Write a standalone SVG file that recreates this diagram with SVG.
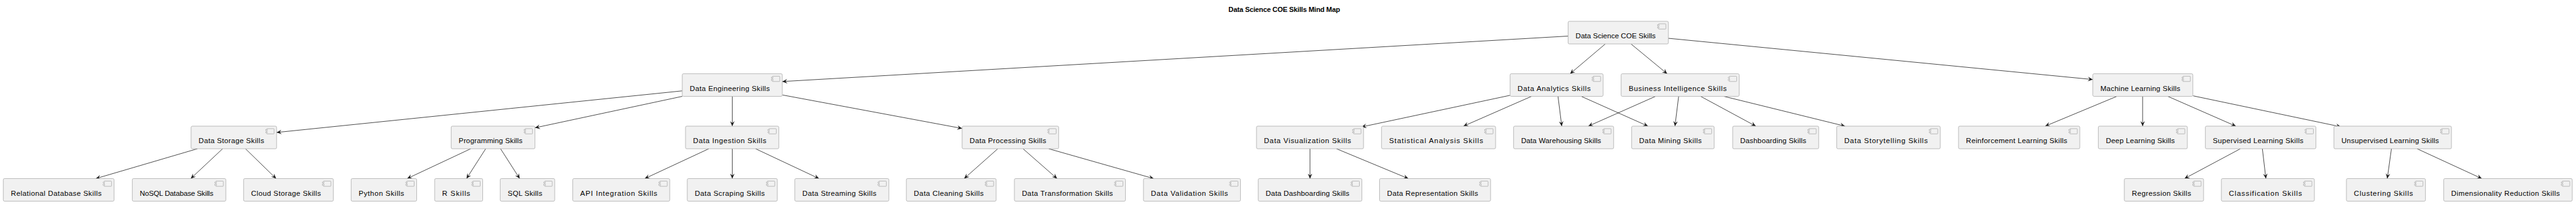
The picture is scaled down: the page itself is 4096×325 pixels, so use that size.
<svg xmlns="http://www.w3.org/2000/svg" width="4096" height="325" viewBox="0 0 4096 325">
<style>
.b{fill:#F1F1F1;stroke:#ABABAB;stroke-width:1}
.i{fill:#F1F1F1;stroke:#ABABAB;stroke-width:1}
.p{fill:#F1F1F1;stroke:#ABABAB;stroke-width:.7}
.t{font-family:"Liberation Sans",Arial,sans-serif;font-size:14.5px;fill:#000}
.h{font-family:"Liberation Sans",Arial,sans-serif;font-size:14px;font-weight:bold;fill:#000}
.e{fill:none;stroke:#181818;stroke-width:1;marker-end:url(#a)}
</style>
<defs>
<marker id="a" markerUnits="userSpaceOnUse" markerWidth="12" markerHeight="10" viewBox="0 -5 12 10" refX="10" refY="0" orient="auto"><path d="M0,-4.5 L10,0 L0,4.5 L4,0 Z" fill="#181818"/></marker>
<g id="c"><rect class="i" width="15" height="10.5" rx="1"/><rect class="p" x="-2" y="2" width="3.5" height="2"/><rect class="p" x="-2" y="6.5" width="3.5" height="2"/></g>
</defs>
<rect width="4096" height="325" fill="#fff"/>
<g transform="scale(0.79534)">
<text class="h" x="2456" y="24" textLength="223" lengthAdjust="spacing">Data Science COE Skills Mind Map</text>
<g id="connectors">
<line class="e" x1="3135" y1="72.3" x2="1564" y2="163.3"/>
<line class="e" x1="3209.4" y1="88" x2="3139" y2="147.7"/>
<line class="e" x1="3260.7" y1="88" x2="3333" y2="147.7"/>
<line class="e" x1="3335.4" y1="76.7" x2="4184" y2="159.3"/>
<line class="e" x1="1364" y1="182" x2="553" y2="265.3"/>
<line class="e" x1="1364" y1="193" x2="1069.5" y2="256"/>
<line class="e" x1="1464" y1="193" x2="1464" y2="252.7"/>
<line class="e" x1="1564.5" y1="190.3" x2="1923.5" y2="257.3"/>
<line class="e" x1="394.6" y1="298" x2="191.5" y2="357.7"/>
<line class="e" x1="445" y1="298" x2="381.4" y2="357.7"/>
<line class="e" x1="490.8" y1="298" x2="552" y2="357.7"/>
<line class="e" x1="941" y1="298" x2="814" y2="357.7"/>
<line class="e" x1="971" y1="298" x2="932.7" y2="357.7"/>
<line class="e" x1="1000.7" y1="298" x2="1039" y2="357.7"/>
<line class="e" x1="1417" y1="298" x2="1289" y2="357.7"/>
<line class="e" x1="1464" y1="298" x2="1464" y2="357.7"/>
<line class="e" x1="1510.6" y1="298" x2="1637.4" y2="357.7"/>
<line class="e" x1="1994.8" y1="298" x2="1927.6" y2="357.7"/>
<line class="e" x1="2045.3" y1="298" x2="2113.3" y2="357.7"/>
<line class="e" x1="2096.7" y1="298" x2="2306.5" y2="357.7"/>
<line class="e" x1="3018.7" y1="191" x2="2721.9" y2="254.3"/>
<line class="e" x1="3061.8" y1="193" x2="2925.8" y2="252.7"/>
<line class="e" x1="3114.8" y1="193" x2="3122.3" y2="252.7"/>
<line class="e" x1="3161.3" y1="193" x2="3294.7" y2="252.7"/>
<line class="e" x1="3309.7" y1="193" x2="3175.4" y2="252.7"/>
<line class="e" x1="3356" y1="193" x2="3348.6" y2="252.7"/>
<line class="e" x1="3400" y1="193" x2="3510.3" y2="252.7"/>
<line class="e" x1="3446.5" y1="193" x2="3688.6" y2="252.7"/>
<line class="e" x1="2619" y1="298" x2="2619" y2="357.7"/>
<line class="e" x1="2672" y1="298" x2="2815.6" y2="357.7"/>
<line class="e" x1="4232" y1="193" x2="4088.8" y2="252.7"/>
<line class="e" x1="4283.6" y1="193" x2="4283.6" y2="252.7"/>
<line class="e" x1="4334" y1="193" x2="4470" y2="252.7"/>
<line class="e" x1="4384.7" y1="192" x2="4680" y2="254"/>
<line class="e" x1="4479" y1="298" x2="4367.3" y2="357.7"/>
<line class="e" x1="4523" y1="298" x2="4530" y2="357.7"/>
<line class="e" x1="4781" y1="298" x2="4772.7" y2="357.7"/>
<line class="e" x1="4832.4" y1="298" x2="4961.7" y2="357.7"/>
</g>
<g id="root"><rect class="b" x="3135" y="42.7" width="200.5" height="45.3" rx="2.5"/><use href="#c" x="3315.5" y="47.7"/><text class="t" x="3150" y="77" textLength="160" lengthAdjust="spacing">Data Science COE Skills</text></g>
<g id="n-engineering"><rect class="b" x="1364" y="147.7" width="200" height="45.3" rx="2.5"/><use href="#c" x="1544" y="152.7"/><text class="t" x="1379" y="182" textLength="160" lengthAdjust="spacing">Data Engineering Skills</text></g>
<g id="n-analytics"><rect class="b" x="3019" y="147.7" width="186" height="45.3" rx="2.5"/><use href="#c" x="3185" y="152.7"/><text class="t" x="3034" y="182" textLength="146" lengthAdjust="spacing">Data Analytics Skills</text></g>
<g id="n-bi"><rect class="b" x="3241" y="147.7" width="236" height="45.3" rx="2.5"/><use href="#c" x="3457" y="152.7"/><text class="t" x="3256" y="182" textLength="196" lengthAdjust="spacing">Business Intelligence Skills</text></g>
<g id="n-ml"><rect class="b" x="4184" y="147.7" width="200" height="45.3" rx="2.5"/><use href="#c" x="4364" y="152.7"/><text class="t" x="4199" y="182" textLength="160" lengthAdjust="spacing">Machine Learning Skills</text></g>
<g id="n-storage"><rect class="b" x="382" y="252.7" width="171" height="45.3" rx="2.5"/><use href="#c" x="533" y="257.7"/><text class="t" x="397" y="287" textLength="131" lengthAdjust="spacing">Data Storage Skills</text></g>
<g id="n-programming"><rect class="b" x="902" y="252.7" width="167.5" height="45.3" rx="2.5"/><use href="#c" x="1049.5" y="257.7"/><text class="t" x="917" y="287" textLength="127.5" lengthAdjust="spacing">Programming Skills</text></g>
<g id="n-ingestion"><rect class="b" x="1370.5" y="252.7" width="186.5" height="45.3" rx="2.5"/><use href="#c" x="1537" y="257.7"/><text class="t" x="1385.5" y="287" textLength="146.5" lengthAdjust="spacing">Data Ingestion Skills</text></g>
<g id="n-processing"><rect class="b" x="1923.5" y="252.7" width="193" height="45.3" rx="2.5"/><use href="#c" x="2096.5" y="257.7"/><text class="t" x="1938.5" y="287" textLength="153" lengthAdjust="spacing">Data Processing Skills</text></g>
<g id="n-visualization"><rect class="b" x="2512" y="252.7" width="214" height="45.3" rx="2.5"/><use href="#c" x="2706" y="257.7"/><text class="t" x="2527" y="287" textLength="174" lengthAdjust="spacing">Data Visualization Skills</text></g>
<g id="n-statistical"><rect class="b" x="2762" y="252.7" width="228" height="45.3" rx="2.5"/><use href="#c" x="2970" y="257.7"/><text class="t" x="2777" y="287" textLength="188" lengthAdjust="spacing">Statistical Analysis Skills</text></g>
<g id="n-warehousing"><rect class="b" x="3026" y="252.7" width="200" height="45.3" rx="2.5"/><use href="#c" x="3206" y="257.7"/><text class="t" x="3041" y="287" textLength="160" lengthAdjust="spacing">Data Warehousing Skills</text></g>
<g id="n-mining"><rect class="b" x="3262" y="252.7" width="165" height="45.3" rx="2.5"/><use href="#c" x="3407" y="257.7"/><text class="t" x="3277" y="287" textLength="125" lengthAdjust="spacing">Data Mining Skills</text></g>
<g id="n-dashboarding"><rect class="b" x="3464" y="252.7" width="172" height="45.3" rx="2.5"/><use href="#c" x="3616" y="257.7"/><text class="t" x="3479" y="287" textLength="132" lengthAdjust="spacing">Dashboarding Skills</text></g>
<g id="n-storytelling"><rect class="b" x="3672" y="252.7" width="207" height="45.3" rx="2.5"/><use href="#c" x="3859" y="257.7"/><text class="t" x="3687" y="287" textLength="167" lengthAdjust="spacing">Data Storytelling Skills</text></g>
<g id="n-reinforcement"><rect class="b" x="3915.5" y="252.7" width="242.5" height="45.3" rx="2.5"/><use href="#c" x="4138" y="257.7"/><text class="t" x="3930.5" y="287" textLength="202.5" lengthAdjust="spacing">Reinforcement Learning Skills</text></g>
<g id="n-deep"><rect class="b" x="4195" y="252.7" width="178" height="45.3" rx="2.5"/><use href="#c" x="4353" y="257.7"/><text class="t" x="4210" y="287" textLength="138" lengthAdjust="spacing">Deep Learning Skills</text></g>
<g id="n-supervised"><rect class="b" x="4409" y="252.7" width="221" height="45.3" rx="2.5"/><use href="#c" x="4610" y="257.7"/><text class="t" x="4424" y="287" textLength="181" lengthAdjust="spacing">Supervised Learning Skills</text></g>
<g id="n-unsupervised"><rect class="b" x="4666" y="252.7" width="235" height="45.3" rx="2.5"/><use href="#c" x="4881" y="257.7"/><text class="t" x="4681" y="287" textLength="195" lengthAdjust="spacing">Unsupervised Learning Skills</text></g>
<g id="n-relational"><rect class="b" x="6.6" y="357.7" width="221.4" height="45.3" rx="2.5"/><use href="#c" x="208" y="362.7"/><text class="t" x="21.6" y="392" textLength="181.4" lengthAdjust="spacing">Relational Database Skills</text></g>
<g id="n-nosql"><rect class="b" x="264.5" y="357.7" width="187" height="45.3" rx="2.5"/><use href="#c" x="431.5" y="362.7"/><text class="t" x="279.5" y="392" textLength="147" lengthAdjust="spacing">NoSQL Database Skills</text></g>
<g id="n-cloud"><rect class="b" x="487" y="357.7" width="179.5" height="45.3" rx="2.5"/><use href="#c" x="646.5" y="362.7"/><text class="t" x="502" y="392" textLength="139.5" lengthAdjust="spacing">Cloud Storage Skills</text></g>
<g id="n-python"><rect class="b" x="702" y="357.7" width="131" height="45.3" rx="2.5"/><use href="#c" x="813" y="362.7"/><text class="t" x="717" y="392" textLength="91" lengthAdjust="spacing">Python Skills</text></g>
<g id="n-r"><rect class="b" x="869" y="357.7" width="96" height="45.3" rx="2.5"/><use href="#c" x="945" y="362.7"/><text class="t" x="884" y="392" textLength="56" lengthAdjust="spacing">R Skills</text></g>
<g id="n-sql"><rect class="b" x="1000" y="357.7" width="109" height="45.3" rx="2.5"/><use href="#c" x="1089" y="362.7"/><text class="t" x="1015" y="392" textLength="69" lengthAdjust="spacing">SQL Skills</text></g>
<g id="n-api"><rect class="b" x="1145" y="357.7" width="194" height="45.3" rx="2.5"/><use href="#c" x="1319" y="362.7"/><text class="t" x="1160" y="392" textLength="154" lengthAdjust="spacing">API Integration Skills</text></g>
<g id="n-scraping"><rect class="b" x="1374" y="357.7" width="180" height="45.3" rx="2.5"/><use href="#c" x="1534" y="362.7"/><text class="t" x="1389" y="392" textLength="140" lengthAdjust="spacing">Data Scraping Skills</text></g>
<g id="n-streaming"><rect class="b" x="1589" y="357.7" width="188" height="45.3" rx="2.5"/><use href="#c" x="1757" y="362.7"/><text class="t" x="1604" y="392" textLength="148" lengthAdjust="spacing">Data Streaming Skills</text></g>
<g id="n-cleaning"><rect class="b" x="1812" y="357.7" width="179.5" height="45.3" rx="2.5"/><use href="#c" x="1971.5" y="362.7"/><text class="t" x="1827" y="392" textLength="139.5" lengthAdjust="spacing">Data Cleaning Skills</text></g>
<g id="n-transformation"><rect class="b" x="2028" y="357.7" width="222" height="45.3" rx="2.5"/><use href="#c" x="2230" y="362.7"/><text class="t" x="2043" y="392" textLength="182" lengthAdjust="spacing">Data Transformation Skills</text></g>
<g id="n-validation"><rect class="b" x="2286" y="357.7" width="194" height="45.3" rx="2.5"/><use href="#c" x="2460" y="362.7"/><text class="t" x="2301" y="392" textLength="154" lengthAdjust="spacing">Data Validation Skills</text></g>
<g id="n-data-dashboarding"><rect class="b" x="2515.5" y="357.7" width="207.2" height="45.3" rx="2.5"/><use href="#c" x="2702.7" y="362.7"/><text class="t" x="2530.5" y="392" textLength="167.2" lengthAdjust="spacing">Data Dashboarding Skills</text></g>
<g id="n-representation"><rect class="b" x="2758" y="357.7" width="222" height="45.3" rx="2.5"/><use href="#c" x="2960" y="362.7"/><text class="t" x="2773" y="392" textLength="182" lengthAdjust="spacing">Data Representation Skills</text></g>
<g id="n-regression"><rect class="b" x="4247" y="357.7" width="158.5" height="45.3" rx="2.5"/><use href="#c" x="4385.5" y="362.7"/><text class="t" x="4262" y="392" textLength="118.5" lengthAdjust="spacing">Regression Skills</text></g>
<g id="n-classification"><rect class="b" x="4441" y="357.7" width="186" height="45.3" rx="2.5"/><use href="#c" x="4607" y="362.7"/><text class="t" x="4456" y="392" textLength="146" lengthAdjust="spacing">Classification Skills</text></g>
<g id="n-clustering"><rect class="b" x="4691" y="357.7" width="158" height="45.3" rx="2.5"/><use href="#c" x="4829" y="362.7"/><text class="t" x="4706" y="392" textLength="118" lengthAdjust="spacing">Clustering Skills</text></g>
<g id="n-dimensionality"><rect class="b" x="4885.5" y="357.7" width="257" height="45.3" rx="2.5"/><use href="#c" x="5122.5" y="362.7"/><text class="t" x="4900.5" y="392" textLength="217" lengthAdjust="spacing">Dimensionality Reduction Skills</text></g>
</g>
</svg>
